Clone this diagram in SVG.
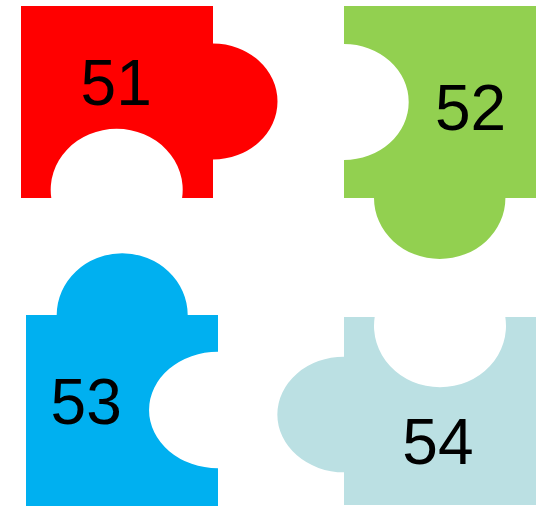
<svg xmlns="http://www.w3.org/2000/svg" width="541" height="506" viewBox="0 0 541 506">
<style>
.lbl{font-family:"Liberation Sans",Arial,sans-serif;font-size:64px;fill:#000}
</style>
<rect width="541" height="506" fill="#fff"/>
<g id="p51">
<path fill="#FF0000" d="M21,6 H213 V43.5 A64.5,58 0 0 1 213,159.5 V198 H182.1 A66,61 0 1 0 51.3,198 H21 Z"/>
<text class="lbl" x="80.6" y="105.3">51</text>
</g>
<g id="p52">
<path fill="#92D050" d="M344,6 H536 V198 H505.4 A65.7,61 0 0 1 374,198 H344 V160 A64.7,58 0 0 0 344,44 Z"/>
<text class="lbl" x="435" y="130">52</text>
</g>
<g id="p53">
<path fill="#00B0F0" d="M26,315 H56.7 A65.5,61.7 0 0 1 187.7,315 H218 V351.7 A69,58.3 0 0 0 218,468.3 V506 H26 Z"/>
<text class="lbl" x="50.6" y="424.3">53</text>
</g>
<g id="p54">
<path fill="#BBE0E3" d="M344,317 H374.7 A66,61.3 0 1 0 505.3,317 H536 V505 H344 V472.3 A66.7,57.8 0 0 1 344,356.7 Z"/>
<text class="lbl" x="402.3" y="464.3">54</text>
</g>
<g id="connectors"></g>
</svg>
